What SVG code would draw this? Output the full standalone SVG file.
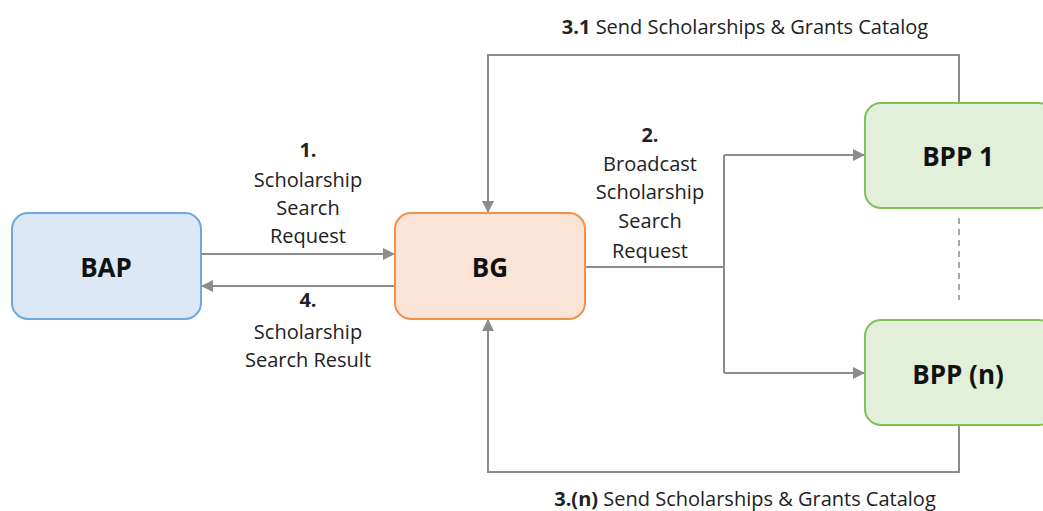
<svg xmlns="http://www.w3.org/2000/svg" width="1043" height="511" viewBox="0 0 1043 511">
<style>
text{font-family:"Open Sans","Liberation Sans",sans-serif;fill:#222;}
.lbl{font-size:20px;text-anchor:middle;}
.b{font-weight:bold;}
.node{font-size:26px;font-weight:bold;text-anchor:middle;dominant-baseline:central;fill:#111;}
.c{fill:none;stroke:#8c8c8c;stroke-width:2;}
</style>
<defs>
<marker id="ah" markerWidth="12" markerHeight="12" refX="11" refY="6" orient="auto" markerUnits="userSpaceOnUse" viewBox="0 0 12 12">
<path d="M0,0 L12,6 L0,12 z" fill="#8c8c8c"/>
</marker>
</defs>
<g id="connectors">
<path class="c" d="M201,254 H394" marker-end="url(#ah)"/>
<path class="c" d="M395,286 H202" marker-end="url(#ah)"/>
<path class="c" d="M585,267 H724"/>
<path class="c" d="M724,155 V373"/>
<path class="c" d="M724,155 H864" marker-end="url(#ah)"/>
<path class="c" d="M724,373 H864" marker-end="url(#ah)"/>
<path class="c" d="M959,103 V55 H488 V212" marker-end="url(#ah)"/>
<path class="c" d="M959,425 V472 H488 V320" marker-end="url(#ah)"/>
<path d="M959,218 V300" fill="none" stroke="#8c8c8c" stroke-width="1.5" stroke-dasharray="6,5"/>
</g>
<g id="BAP">
<rect x="12" y="213" width="189" height="106" rx="16" fill="#dce8f5" stroke="#6fa8dc" stroke-width="2"/>
<text class="node" x="106" y="267">BAP</text>
</g>
<g id="BG">
<rect x="395" y="213" width="190" height="106" rx="16" fill="#fbe4d6" stroke="#f0924a" stroke-width="2"/>
<text class="node" x="490" y="267">BG</text>
</g>
<g id="BPP1">
<rect x="865" y="103" width="190" height="105" rx="16" fill="#e2efd9" stroke="#82c05a" stroke-width="2"/>
<text class="node" x="958" y="156">BPP 1</text>
</g>
<g id="BPPn">
<rect x="865" y="320" width="190" height="105" rx="16" fill="#e2efd9" stroke="#82c05a" stroke-width="2"/>
<text class="node" x="958" y="374">BPP (n)</text>
</g>
<g id="labels">
<text class="lbl" x="745" y="34"><tspan class="b">3.1</tspan> Send Scholarships &amp; Grants Catalog</text>
<text class="lbl" x="745" y="506"><tspan class="b">3.(n)</tspan> Send Scholarships &amp; Grants Catalog</text>
<text class="lbl b" x="308" y="157">1.</text>
<text class="lbl" x="308" y="187">Scholarship</text>
<text class="lbl" x="308" y="215">Search</text>
<text class="lbl" x="308" y="243">Request</text>
<text class="lbl b" x="308" y="307">4.</text>
<text class="lbl" x="308" y="339">Scholarship</text>
<text class="lbl" x="308" y="367">Search Result</text>
<text class="lbl b" x="650" y="142">2.</text>
<text class="lbl" x="650" y="171">Broadcast</text>
<text class="lbl" x="650" y="199">Scholarship</text>
<text class="lbl" x="650" y="228">Search</text>
<text class="lbl" x="650" y="258">Request</text>
</g>
</svg>
